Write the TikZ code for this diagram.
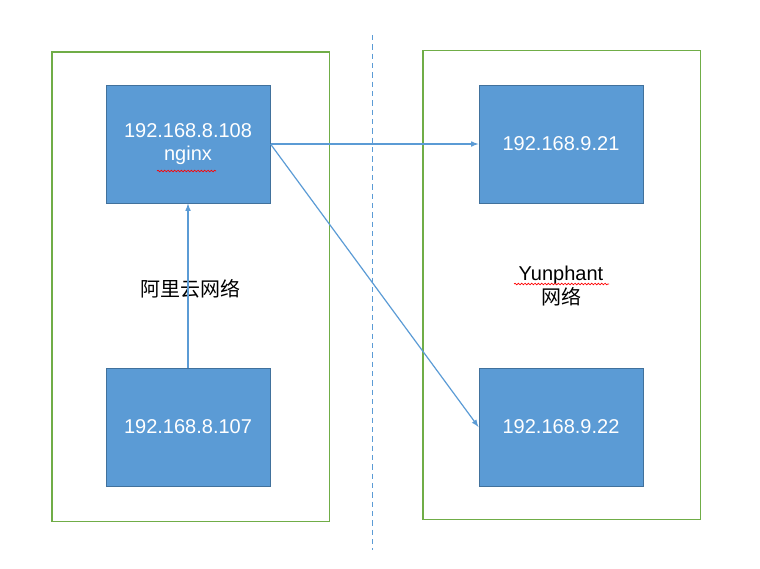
\documentclass[tikz,border=0pt]{standalone}
\usepackage{fontspec}
\setmainfont{Liberation Sans}
\newfontfamily\cjk{Noto Sans CJK SC}
\usetikzlibrary{decorations.pathmorphing}
\definecolor{boxfill}{RGB}{91,155,213}
\definecolor{boxline}{RGB}{65,113,156}
\definecolor{netline}{RGB}{112,173,71}
\tikzset{every picture/.style={line width=0.75pt},
  hostbox/.style={draw=boxline,fill=boxfill,text=white,minimum width=123pt,minimum height=88.5pt,inner sep=0pt,align=center,font=\fontsize{15}{17}\selectfont},
  netbox/.style={draw=netline,line width=1pt,minimum width=208pt,minimum height=352pt,inner sep=0pt},
  link/.style={draw=boxfill,line width=0.9pt,-latex},
  spell/.style={draw=red,line width=0.5pt,decorate,decoration={snake,amplitude=0.6pt,segment length=2.5pt}}}
\begin{document}
\begin{tikzpicture}[x=0.75pt,y=0.75pt,yscale=-1,xscale=1]
\useasboundingbox (0,0) rectangle (760,568);

% networks
\node [netbox] (ali) at (190.5,286.5) {};
\node [netbox] (yun) at (561.5,285) {};
\draw [boxfill,dashed,dash pattern=on 4pt off 3pt] (372,35) -- (372,550);

% hosts
\node [hostbox] (nginx) at (188,144) {192.168.8.108\\nginx};
\node [hostbox] (h107) at (188,427) {192.168.8.107};
\node [hostbox] (h21) at (561,144) {192.168.9.21};
\node [hostbox] (h22) at (561,427) {192.168.9.22};

% labels
\node [font=\cjk\fontsize{15}{17}\selectfont] (alilabel) at (190,289) {阿里云网络};
\node [align=center,font=\fontsize{15}{18}\selectfont] (yunlabel) at (561,286) {Yunphant\\{\cjk 网络}};

% spell marks
\draw [spell] (157,171) -- (216,171);
\draw [spell] (514,284) -- (609,284);

% links
\draw [link] (h107.north) -- (nginx.south);
\draw [link] (nginx.east) -- (h21.west);
\draw [link] (nginx.east) -- (h22.west);

\end{tikzpicture}
\end{document}
